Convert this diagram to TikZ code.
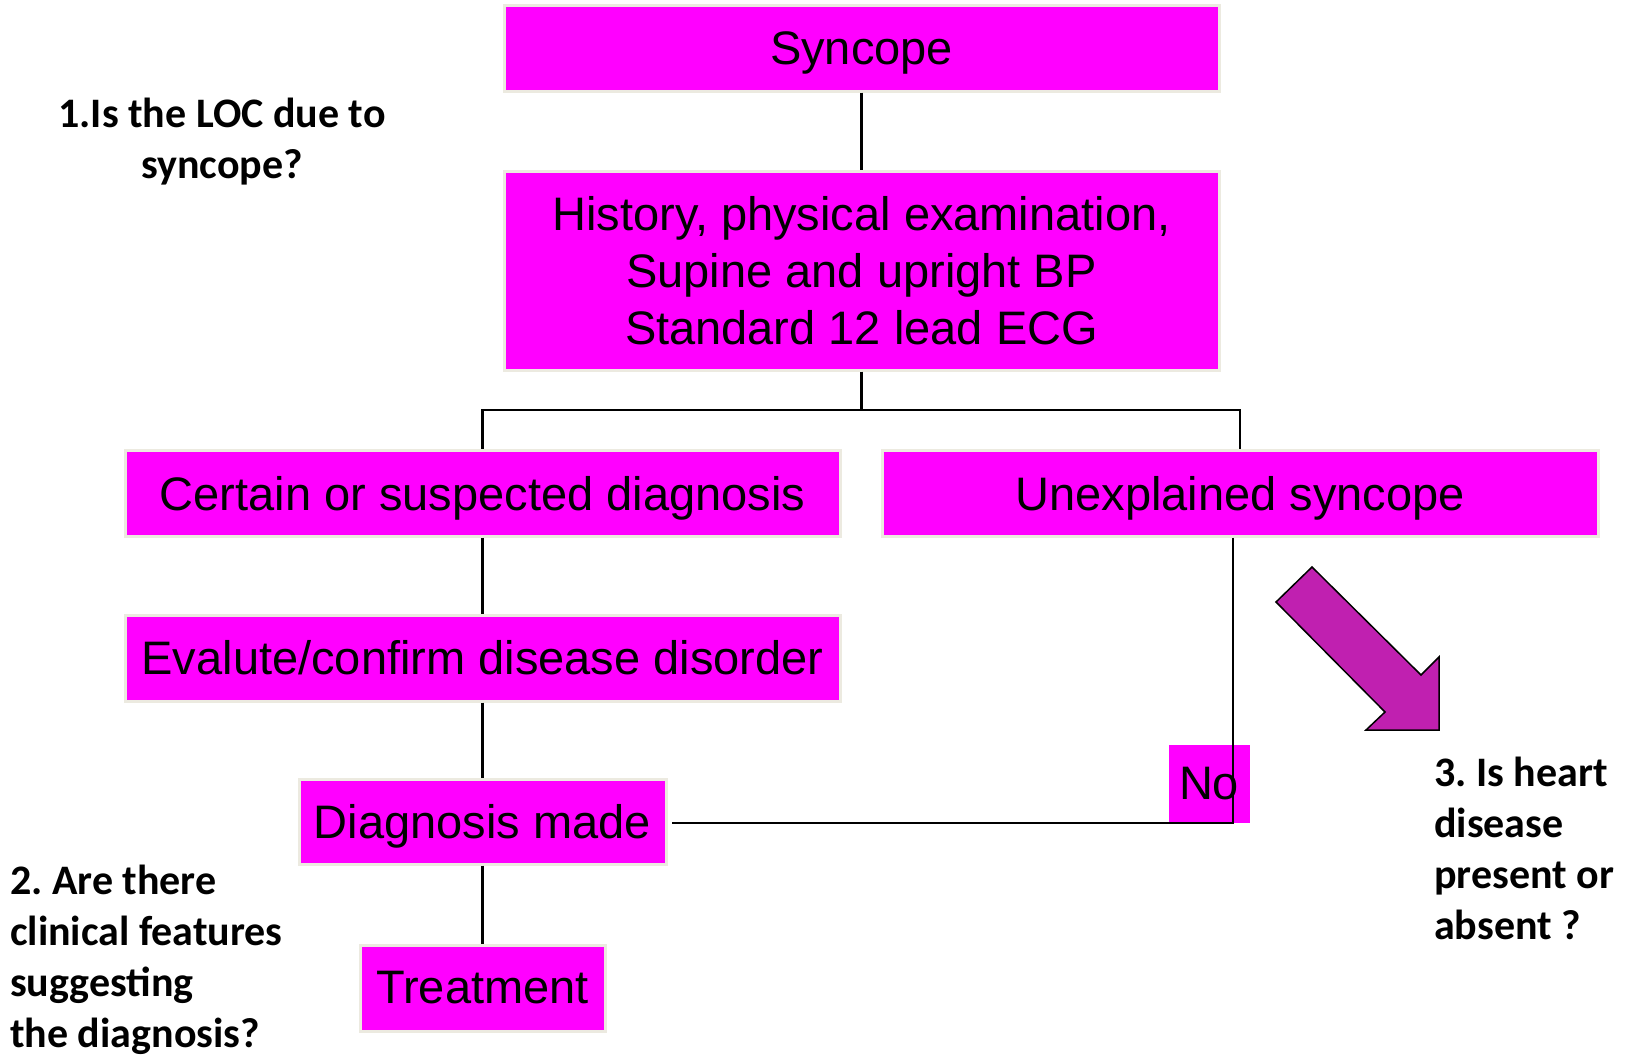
\documentclass[tikz,border=0pt]{standalone}
\usepackage{fontspec}
\newfontfamily\boxfont{Liberation Sans}
\newfontfamily\qfont{Carlito}
\definecolor{boxmag}{RGB}{255,0,255}
\definecolor{arrowmag}{RGB}{192,32,176}
\definecolor{boxedge}{RGB}{236,234,224}
\frenchspacing
\begin{document}
\begin{tikzpicture}[x=1pt,y=-1pt,
  flowbox/.style={rectangle, fill=boxmag, draw=boxedge, line width=3pt, inner sep=0pt,
    align=center, font=\boxfont\fontsize{47}{57}\selectfont},
  oneline/.style={text depth=0pt},
  conn/.style={draw=black, line width=2.6pt},
  qtext/.style={inner sep=0pt, font=\qfont\bfseries\fontsize{42}{51}\selectfont}]
\useasboundingbox (0,0) rectangle (1629,1057);

\node[flowbox, oneline, minimum width=715, minimum height=85] (syn) at (861.5,48.5) {Syncope};
\node[flowbox, minimum width=715, minimum height=199] (hist) at (861.5,270.5)
  {History, physical examination,\\Supine and upright BP\\Standard 12 lead ECG};
\node[flowbox, oneline, minimum width=715, minimum height=86] (cert) at (482.5,493) {Certain or suspected diagnosis};
\node[flowbox, oneline, minimum width=716, minimum height=86] (unex) at (1240,493) {Unexplained syncope};
\node[flowbox, minimum width=715, minimum height=86] (eval) at (482.5,658) {Evalute/confirm disease disorder};
\node[flowbox, oneline, minimum width=367, minimum height=85] (diag) at (482.5,821.5) {Diagnosis made};
\node[flowbox, minimum width=245, minimum height=86] (treat) at (482.5,988) {Treatment};
\node[rectangle, fill=boxmag, draw=none, inner sep=0pt, minimum width=81, minimum height=78,
  font=\boxfont\fontsize{47}{57}\selectfont, text width=61, align=left] (no) at (1209.5,784) {No};

\coordinate (split) at (861.5,410);
\coordinate (nc) at (1233,823);

\draw[conn] (syn) -- (hist);
\draw[conn] (hist) -- (split);
\draw[conn] (split) -| (cert.north);
\draw[conn] (split) -| (unex.north);
\draw[conn] (cert) -- (eval);
\draw[conn] (eval) -- (diag);
\draw[conn] (diag) -- (treat);
\draw[conn] ([xshift=-7pt]unex.south) -- (nc) -- ([xshift=4pt]diag.east |- nc);

\node[qtext, align=center] (q1) at (222,142) {1.Is the LOC due to\\syncope?};
\node[qtext, align=left, anchor=west] (q2) at (10,959.5)
  {2. Are there\\clinical features\\suggesting\\the diagnosis?};
\node[qtext, align=left, anchor=west] (q3) at (1434,848)
  {3. Is heart\\disease\\present or\\absent ?};

\draw[fill=arrowmag, draw=black, line width=1.5pt, line join=miter]
  (1276,602) -- (1312,567) -- (1421,675) -- (1439,657) -- (1439,730) -- (1366,730) -- (1385,712) -- cycle;
\end{tikzpicture}
\end{document}
